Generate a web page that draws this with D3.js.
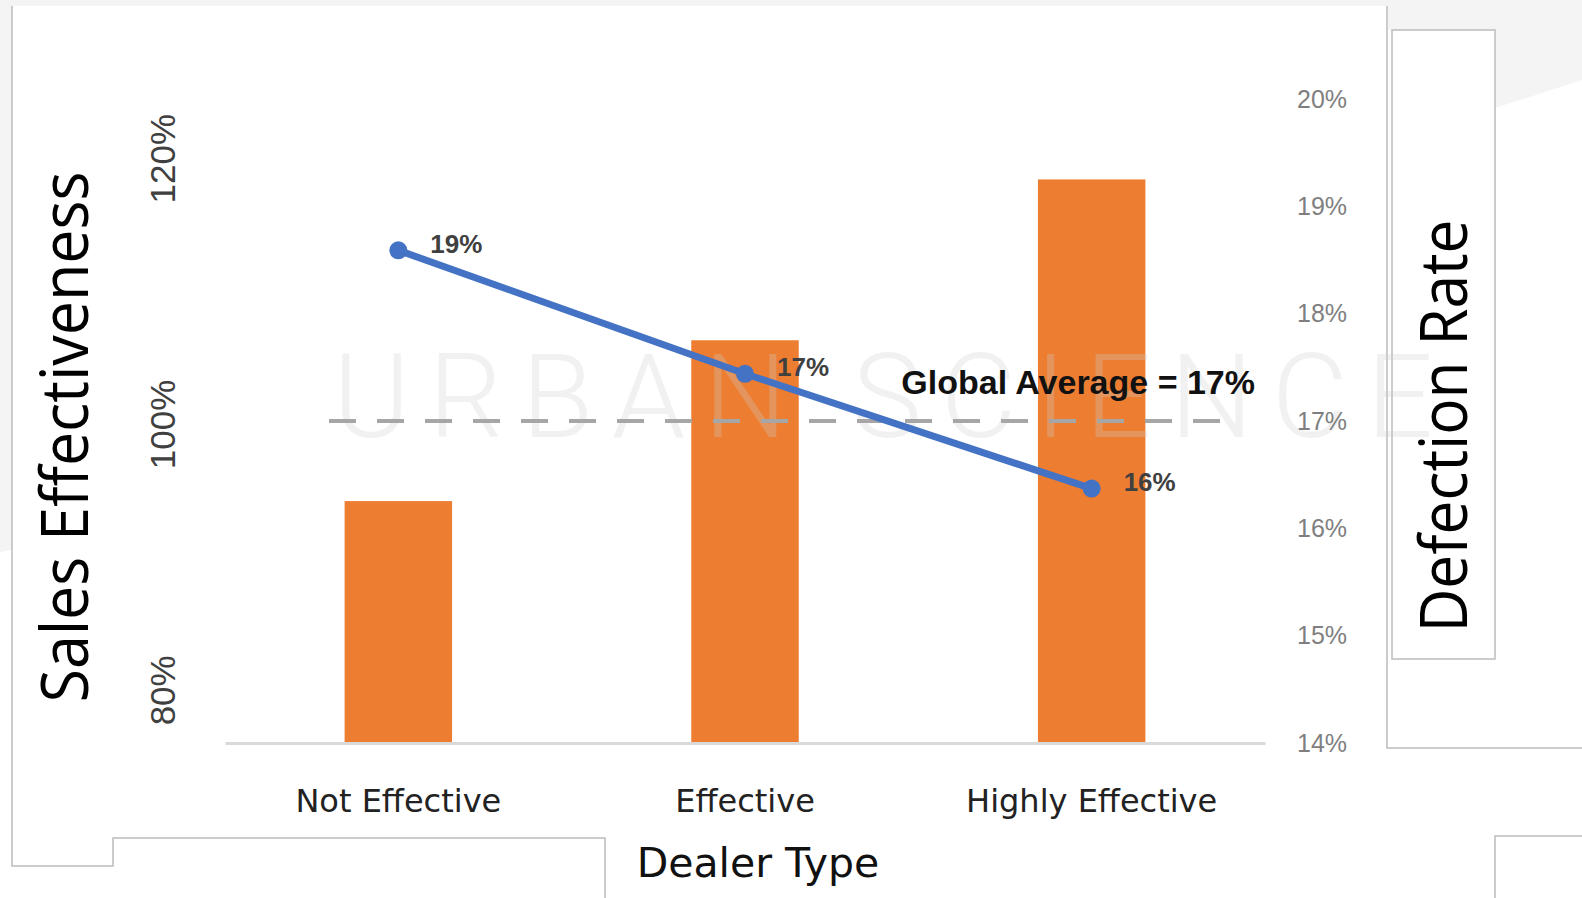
<!DOCTYPE html>
<html>
<head>
<meta charset="utf-8">
<script src="https://cdn.jsdelivr.net/npm/d3@7"></script>
<style>
  body { margin: 0; background: #ffffff; }
  svg { display: block; }
</style>
</head>
<body>
<div id="chart"></div>
<script>

// data
var dealer_types = ["Not Effective", "Effective", "Highly Effective"];
var sales_effectiveness = [94.2, 106.3, 118.4];   // left axis, %
var defection_rate = [18.59, 17.44, 16.37];        // right axis, %
var global_average = 17;
var left_ticks = [80, 100, 120];
var right_ticks = [14, 15, 16, 17, 18, 19, 20];

var width = 1582, height = 898;

var svg = d3.select("#chart")
.append("svg")
.attr("width", width)
.attr("height", height);

// slide background bits
svg.append("rect").attr("x", 0).attr("y", 0).attr("width", width).attr("height", 6).attr("fill", "#f4f4f4");
svg.append("path").attr("d", "M0,0H12V550L0,552Z").attr("fill", "#f4f4f4");
svg.append("path").attr("d", "M1388,0H1582V80L1495,108V30H1388Z").attr("fill", "#f4f4f4");

// panel outlines
var outline = "#bcbcbc";
svg.append("path").attr("d", "M12,6V866H113V838H605V898")
.attr("fill", "none").attr("stroke", outline).attr("stroke-width", 1.5);
svg.append("path").attr("d", "M1387,6V748H1582")
.attr("fill", "none").attr("stroke", outline).attr("stroke-width", 1.5);
svg.append("path").attr("d", "M1495,898V836H1582")
.attr("fill", "none").attr("stroke", outline).attr("stroke-width", 1.5);
svg.append("rect").attr("x", 1392).attr("y", 30).attr("width", 103).attr("height", 629)
.attr("fill", "#ffffff").attr("stroke", outline).attr("stroke-width", 1.5);

// scales
var x_scale = d3.scaleBand()
.domain(dealer_types)
.range([225, 1265])
.paddingInner(0.69)
.paddingOuter(0.345);

var y_left = d3.scaleLinear().domain([76, 124]).range([743, 105]);
var y_right = d3.scaleLinear().domain([14, 20]).range([743, 99]);

// bars
svg.selectAll(".bar")
.data(dealer_types)
.enter()
.append("rect")
.attr("class", "bar")
.attr("x", function(d) { return x_scale(d); })
.attr("width", x_scale.bandwidth())
.attr("y", function(d, i) { return y_left(sales_effectiveness[i]); })
.attr("height", function(d, i) { return y_left(76) - y_left(sales_effectiveness[i]); })
.attr("fill", "#ed7d31");

// watermark (very faint)
svg.append("text")
.attr("x", 333)
.attr("y", 437)
.attr("textLength", 1100)
.attr("lengthAdjust", "spacing")
.style("font-family", "Roboto, 'Open Sans', sans-serif")
.style("font-weight", 300)
.style("font-size", "117px")
.style("fill", "#cfcfcf")
.style("opacity", 0.28)
.text("URBAN SCIENCE");

// x axis
var x_axis = svg.append("g")
.attr("transform", "translate(0,743)")
.call(d3.axisBottom(x_scale).tickSize(0).tickSizeOuter(0).tickPadding(46));

x_axis.select(".domain").attr("stroke", "#d9d9d9").attr("stroke-width", 3);
x_axis.selectAll("text")
.style("font-family", "'DejaVu Sans', sans-serif")
.style("font-size", "32px")
.style("fill", "#222");

// left axis, rotated labels
var left_axis = svg.append("g")
.attr("transform", "translate(175,0)")
.call(d3.axisLeft(y_left).tickValues(left_ticks).tickSize(0).tickFormat(function(d) { return d + "%"; }));

left_axis.select(".domain").remove();
left_axis.selectAll("text")
.attr("x", 0)
.attr("dy", 0)
.attr("text-anchor", "middle")
.attr("transform", "rotate(-90)")
.style("font-family", "'Liberation Sans', Arial, sans-serif")
.style("font-size", "35px")
.style("fill", "#404040");

// right axis
var right_axis = svg.append("g")
.attr("transform", "translate(1297,0)")
.call(d3.axisRight(y_right).tickValues(right_ticks).tickSize(0).tickPadding(0).tickFormat(function(d) { return d + "%"; }));

right_axis.select(".domain").remove();
right_axis.selectAll("text")
.style("font-family", "'Liberation Sans', Arial, sans-serif")
.style("font-size", "25px")
.style("fill", "#7f7f7f");

// global average reference line
svg.append("line")
.attr("x1", x_scale.range()[0] + 104)
.attr("x2", x_scale.range()[1] - 32)
.attr("y1", y_right(global_average))
.attr("y2", y_right(global_average))
.attr("stroke", "#a6a6a6")
.attr("stroke-width", 4)
.attr("stroke-dasharray", "27,21");

svg.append("text")
.attr("x", x_scale.range()[1] - 10)
.attr("y", y_right(global_average) - 27)
.attr("text-anchor", "end")
.style("font-family", "'Liberation Sans', Arial, sans-serif")
.style("font-weight", "bold")
.style("font-size", "34px")
.style("fill", "#111")
.text("Global Average = " + global_average + "%");

// defection rate line
var line = d3.line()
.x(function(d, i) { return x_scale(dealer_types[i]) + x_scale.bandwidth() / 2; })
.y(function(d) { return y_right(d); });

svg.append("path")
.datum(defection_rate)
.attr("d", line)
.attr("fill", "none")
.attr("stroke", "#4472c4")
.attr("stroke-width", 7);

svg.selectAll(".point")
.data(defection_rate)
.enter()
.append("circle")
.attr("class", "point")
.attr("cx", function(d, i) { return x_scale(dealer_types[i]) + x_scale.bandwidth() / 2; })
.attr("cy", function(d) { return y_right(d); })
.attr("r", 9)
.attr("fill", "#4472c4");

svg.selectAll(".point-label")
.data(defection_rate)
.enter()
.append("text")
.attr("class", "point-label")
.attr("x", function(d, i) { return x_scale(dealer_types[i]) + x_scale.bandwidth() / 2 + 32; })
.attr("y", function(d) { return y_right(d) - 7; })
.attr("dy", "0.36em")
.style("font-family", "'Liberation Sans', Arial, sans-serif")
.style("font-weight", "bold")
.style("font-size", "26px")
.style("fill", "#404040")
.text(function(d) { return Math.round(d) + "%"; });

// axis titles
svg.append("text")
.attr("transform", "translate(88,437) rotate(-90)")
.attr("text-anchor", "middle")
.attr("textLength", 531)
.attr("lengthAdjust", "spacingAndGlyphs")
.style("font-family", "'Open Sans', sans-serif")
.style("font-size", "66px")
.style("fill", "#000")
.text("Sales Effectiveness");

svg.append("text")
.attr("transform", "translate(1467,426) rotate(-90)")
.attr("text-anchor", "middle")
.attr("textLength", 413)
.attr("lengthAdjust", "spacingAndGlyphs")
.style("font-family", "'Open Sans', sans-serif")
.style("font-size", "66px")
.style("fill", "#000")
.text("Defection Rate");

svg.append("text")
.attr("x", 758)
.attr("y", 877)
.attr("text-anchor", "middle")
.style("font-family", "'DejaVu Sans', sans-serif")
.style("font-size", "41px")
.style("fill", "#111")
.text("Dealer Type");

</script>
</body>
</html>
